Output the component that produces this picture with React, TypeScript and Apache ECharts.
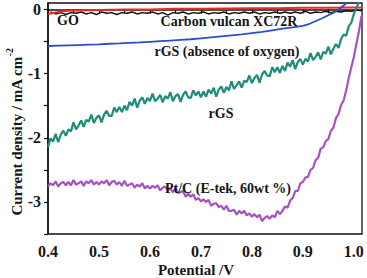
import React, { useEffect, useRef } from "react";
import * as echarts from "echarts";

// ---- Data ----
const goData: [number, number][] = [
  [0.4, -0.07], [0.405, -0.065], [0.41, -0.055], [0.42, -0.04], [0.43, -0.03], [0.44, -0.02],
  [0.46, -0.015], [0.5, -0.01], [0.55, 0.0], [0.6, 0.0], [0.65, 0.01], [0.7, 0.01],
  [0.75, 0.015], [0.8, 0.02], [0.85, 0.02], [0.9, 0.025], [0.95, 0.025], [1.0, 0.03], [1.016, 0.03],
];

const carbonData: [number, number][] = [
  [0.405, -0.04], [0.415, -0.07], [0.425, -0.05], [0.435, -0.08], [0.445, -0.05], [0.455, -0.06],
  [0.465, -0.04], [0.475, -0.07], [0.485, -0.05], [0.495, -0.08], [0.505, -0.04], [0.515, -0.06],
  [0.525, -0.05], [0.535, -0.08], [0.545, -0.05], [0.555, -0.06], [0.565, -0.04], [0.575, -0.07],
  [0.585, -0.05], [0.595, -0.06], [0.605, -0.04], [0.615, -0.07], [0.625, -0.05], [0.635, -0.09],
  [0.645, -0.05], [0.655, -0.06], [0.665, -0.04], [0.675, -0.07], [0.685, -0.05], [0.695, -0.06],
  [0.705, -0.04], [0.715, -0.07], [0.725, -0.05], [0.735, -0.06], [0.745, -0.04], [0.755, -0.07],
  [0.765, -0.05], [0.775, -0.06], [0.785, -0.04], [0.795, -0.06], [0.805, -0.04], [0.815, -0.07],
  [0.825, -0.05], [0.835, -0.06], [0.845, -0.04], [0.855, -0.06], [0.865, -0.04], [0.875, -0.06],
  [0.885, -0.04], [0.895, -0.06], [0.905, -0.03], [0.915, -0.06], [0.925, -0.04], [0.935, -0.05],
  [0.945, -0.03], [0.955, -0.05], [0.965, -0.03], [0.975, -0.04], [0.985, -0.02], [0.995, -0.03],
  [1.005, -0.01], [1.015, -0.02],
];

const rgsNoO2Data: [number, number][] = [
  [0.4, -0.57], [0.42, -0.565], [0.44, -0.56], [0.46, -0.555], [0.48, -0.55], [0.5, -0.545],
  [0.52, -0.535], [0.54, -0.53], [0.56, -0.52], [0.58, -0.515], [0.6, -0.505], [0.62, -0.495],
  [0.64, -0.485], [0.66, -0.475], [0.68, -0.465], [0.7, -0.45], [0.72, -0.435], [0.74, -0.42],
  [0.76, -0.405], [0.78, -0.39], [0.8, -0.37], [0.82, -0.35], [0.84, -0.325], [0.86, -0.3],
  [0.88, -0.28], [0.9, -0.255], [0.91, -0.235], [0.92, -0.2], [0.93, -0.165], [0.94, -0.13],
  [0.95, -0.09], [0.96, -0.05], [0.97, 0.0], [0.98, 0.06], [0.99, 0.13],
];

const rgsData: [number, number][] = [
  [0.4, -2.15], [0.405, -2.01], [0.41, -2.06], [0.415, -1.94], [0.42, -2.07], [0.425, -1.95],
  [0.43, -1.89], [0.435, -1.97], [0.44, -1.87], [0.445, -1.9], [0.45, -1.76], [0.455, -1.87],
  [0.46, -1.81], [0.465, -1.73], [0.47, -1.83], [0.475, -1.72], [0.48, -1.75], [0.485, -1.64],
  [0.49, -1.77], [0.495, -1.69], [0.5, -1.65], [0.505, -1.76], [0.51, -1.64], [0.515, -1.58],
  [0.52, -1.66], [0.525, -1.66], [0.53, -1.53], [0.535, -1.6], [0.54, -1.52], [0.545, -1.6],
  [0.55, -1.5], [0.555, -1.57], [0.56, -1.44], [0.565, -1.5], [0.57, -1.39], [0.575, -1.53],
  [0.58, -1.42], [0.585, -1.37], [0.59, -1.47], [0.595, -1.38], [0.6, -1.43], [0.605, -1.31],
  [0.61, -1.43], [0.615, -1.39], [0.62, -1.33], [0.625, -1.45], [0.63, -1.35], [0.635, -1.39],
  [0.64, -1.29], [0.645, -1.43], [0.65, -1.35], [0.655, -1.32], [0.66, -1.44], [0.665, -1.33],
  [0.67, -1.28], [0.675, -1.37], [0.68, -1.38], [0.685, -1.26], [0.69, -1.34], [0.695, -1.28],
  [0.7, -1.37], [0.705, -1.28], [0.71, -1.36], [0.715, -1.25], [0.72, -1.31], [0.725, -1.22],
  [0.73, -1.36], [0.735, -1.25], [0.74, -1.2], [0.745, -1.3], [0.75, -1.21], [0.755, -1.26],
  [0.76, -1.12], [0.765, -1.24], [0.77, -1.18], [0.775, -1.12], [0.78, -1.22], [0.785, -1.11],
  [0.79, -1.13], [0.795, -1.03], [0.8, -1.15], [0.805, -1.07], [0.81, -1.02], [0.815, -1.14],
  [0.82, -1.01], [0.825, -0.96], [0.83, -1.03], [0.835, -1.04], [0.84, -0.9], [0.845, -0.98],
  [0.85, -0.9], [0.855, -0.99], [0.86, -0.88], [0.865, -0.96], [0.87, -0.83], [0.875, -0.89],
  [0.88, -0.79], [0.885, -0.93], [0.89, -0.82], [0.895, -0.77], [0.9, -0.86], [0.905, -0.77],
  [0.91, -0.81], [0.915, -0.68], [0.92, -0.79], [0.925, -0.74], [0.93, -0.67], [0.935, -0.78],
  [0.94, -0.66], [0.945, -0.69], [0.95, -0.58], [0.955, -0.7], [0.96, -0.61], [0.965, -0.54],
  [0.97, -0.6], [0.975, -0.46], [0.98, -0.39], [0.985, -0.41], [0.99, -0.26], [0.995, -0.21],
  [1.0, -0.07], [1.005, 0.02], [1.01, 0.12],
];

const ptcData: [number, number][] = [
  [0.4, -2.76], [0.405, -2.71], [0.41, -2.74], [0.415, -2.68], [0.42, -2.76], [0.425, -2.71],
  [0.43, -2.69], [0.435, -2.74], [0.44, -2.69], [0.445, -2.74], [0.45, -2.66], [0.455, -2.73],
  [0.46, -2.71], [0.465, -2.68], [0.47, -2.75], [0.475, -2.68], [0.48, -2.71], [0.485, -2.66],
  [0.49, -2.73], [0.495, -2.69], [0.5, -2.73], [0.505, -2.68], [0.51, -2.71], [0.515, -2.66],
  [0.52, -2.74], [0.525, -2.69], [0.53, -2.67], [0.535, -2.73], [0.54, -2.69], [0.545, -2.75],
  [0.55, -2.67], [0.555, -2.75], [0.56, -2.73], [0.565, -2.71], [0.57, -2.78], [0.575, -2.73],
  [0.58, -2.76], [0.585, -2.71], [0.59, -2.79], [0.595, -2.75], [0.6, -2.79], [0.605, -2.75],
  [0.61, -2.78], [0.615, -2.74], [0.62, -2.82], [0.625, -2.78], [0.63, -2.76], [0.635, -2.82],
  [0.64, -2.79], [0.645, -2.85], [0.65, -2.78], [0.655, -2.86], [0.66, -2.85], [0.665, -2.83],
  [0.67, -2.92], [0.675, -2.87], [0.68, -2.92], [0.685, -2.88], [0.69, -2.97], [0.695, -2.94],
  [0.7, -2.99], [0.705, -2.96], [0.71, -3.0], [0.715, -2.97], [0.72, -3.06], [0.725, -3.03],
  [0.73, -3.02], [0.735, -3.08], [0.74, -3.06], [0.745, -3.12], [0.75, -3.06], [0.755, -3.14],
  [0.76, -3.14], [0.765, -3.12], [0.77, -3.2], [0.775, -3.14], [0.78, -3.18], [0.785, -3.14],
  [0.79, -3.21], [0.795, -3.18], [0.8, -3.23], [0.805, -3.19], [0.81, -3.24], [0.815, -3.2],
  [0.82, -3.3], [0.825, -3.25], [0.83, -3.22], [0.835, -3.26], [0.84, -3.21], [0.845, -3.24],
  [0.85, -3.14], [0.855, -3.19], [0.86, -3.14], [0.865, -3.07], [0.87, -3.09], [0.875, -2.98],
  [0.88, -2.94], [0.885, -2.83], [0.89, -2.83], [0.895, -2.71], [0.9, -2.69], [0.905, -2.62],
  [0.91, -2.61], [0.915, -2.5], [0.92, -2.47], [0.925, -2.35], [0.93, -2.31], [0.935, -2.17],
  [0.94, -2.15], [0.945, -2.05], [0.95, -2.02], [0.955, -1.89], [0.96, -1.84], [0.965, -1.69],
  [0.97, -1.63], [0.975, -1.49], [0.98, -1.42], [0.985, -1.26], [0.99, -1.07], [0.995, -0.9],
  [1.0, -0.74], [1.005, -0.54], [1.01, -0.34], [1.015, -0.1],
];

const xTitle = "Potential /V";
const yTitleMain = "Current density / mA cm";
const yTitleSup = "-2";
const labels = {
  go: "GO",
  carbon: "Carbon vulcan XC72R",
  rgsNoO2: "rGS (absence of oxygen)",
  rgs: "rGS",
  ptc: "Pt/C (E-tek, 60wt %)",
};

const FONT = "'Liberation Serif', 'Times New Roman', serif";
const TXT = "#161616";

export default function App() {
  const ref = useRef<HTMLDivElement>(null);
  useEffect(() => {
    if (!ref.current) return;
    const chart = echarts.init(ref.current, undefined, { renderer: "svg" });
    const lbl = (text: string, x: number, y: number, align: string = "center") => ({
      type: "text",
      x,
      y,
      z: 100,
      style: {
        text,
        fill: TXT,
        font: `bold 14px ${FONT}`,
        align,
        verticalAlign: "middle",
      },
    });
    chart.setOption({
      animation: false,
      backgroundColor: "#fff",
      grid: {
        left: 48,
        right: 5,
        top: 3,
        bottom: 44,
        show: true,
        borderColor: "#111",
        borderWidth: 1.3,
        backgroundColor: "transparent",
      },
      xAxis: {
        type: "value",
        min: 0.4,
        max: 1.016,
        interval: 0.05,
        axisLine: { show: true, lineStyle: { color: "#111", width: 1.5 } },
        axisTick: { show: true, inside: false, length: 4, lineStyle: { color: "#111", width: 1.2 } },
        splitLine: { show: false },
        axisLabel: {
          showMaxLabel: false,
          margin: 9,
          color: TXT,
          fontFamily: FONT,
          fontWeight: "bold",
          fontSize: 16,
          formatter: (v: number) =>
            Math.abs(v * 10 - Math.round(v * 10)) < 1e-6 ? v.toFixed(1) : "",
        },
      },
      yAxis: {
        type: "value",
        min: -3.5,
        max: 0.1,
        interval: 0.5,
        axisLine: { show: true, lineStyle: { color: "#111", width: 1.5 } },
        axisTick: { show: true, inside: false, length: 4, lineStyle: { color: "#111", width: 1.2 } },
        splitLine: { show: false },
        axisLabel: {
          showMaxLabel: false,
          margin: 7,
          color: TXT,
          fontFamily: FONT,
          fontWeight: "bold",
          fontSize: 16,
          formatter: (v: number) =>
            Math.abs(v - Math.round(v)) < 1e-6 ? String(Math.round(v)) : "",
        },
      },
      series: [
        {
          type: "line",
          data: carbonData,
          showSymbol: false,
          lineStyle: { color: "#111", width: 1.5 },
          z: 2,
        },
        {
          type: "line",
          data: goData,
          showSymbol: false,
          lineStyle: { color: "#ee2a22", width: 2 },
          z: 3,
        },
        {
          type: "line",
          data: rgsNoO2Data,
          showSymbol: false,
          lineStyle: { color: "#2a4fc6", width: 1.8 },
          z: 3,
        },
        {
          type: "line",
          data: rgsData,
          showSymbol: false,
          lineStyle: { color: "#1f8c7c", width: 2.2 },
          z: 3,
        },
        {
          type: "line",
          data: ptcData,
          showSymbol: false,
          lineStyle: { color: "#a652c2", width: 2.2 },
          z: 3,
        },
      ],
      graphic: [
        lbl(labels.go, 57, 20, "left"),
        lbl(labels.carbon, 229, 21),
        lbl(labels.rgsNoO2, 227, 51),
        lbl(labels.rgs, 221, 113),
        lbl(labels.ptc, 228, 188),
        {
          type: "text",
          x: 196,
          y: 270,
          z: 100,
          style: {
            text: xTitle,
            fill: TXT,
            font: `bold 15px ${FONT}`,
            align: "center",
            verticalAlign: "middle",
          },
        },
        {
          type: "text",
          x: 14,
          y: 132,
          rotation: Math.PI / 2,
          z: 100,
          style: {
            text: `{a|${yTitleMain}}{b|${yTitleSup}}`,
            align: "center",
            verticalAlign: "middle",
            rich: {
              a: {
                fill: TXT,
                fontFamily: FONT,
                fontWeight: "bold",
                fontSize: 15,
                lineHeight: 20,
                verticalAlign: "bottom",
              },
              b: {
                fill: TXT,
                fontFamily: FONT,
                fontWeight: "bold",
                fontSize: 10,
                lineHeight: 20,
                verticalAlign: "top",
              },
            },
          },
        },
      ],
    });
    return () => chart.dispose();
  }, []);
  return (
    <div
      ref={ref}
      style={{ position: "absolute", left: 0, top: 0, width: 367, height: 278, background: "#fff" }}
    />
  );
}
